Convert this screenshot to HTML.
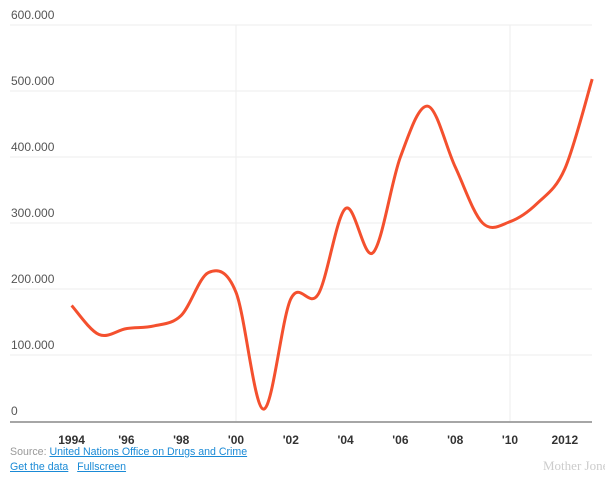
<!DOCTYPE html>
<html><head><meta charset="utf-8">
<style>
body{margin:0;background:#fff;width:605px;height:478px;overflow:hidden;font-family:"Liberation Sans",sans-serif;}
svg{position:absolute;left:0;top:0;}
.foot{position:absolute;left:10px;font-size:10.6px;color:#999;}
.foot a{color:#1a8ad6;text-decoration:underline;}
</style></head><body>
<svg id="chart" width="605" height="478"></svg>
<div class="foot" style="top:446px">Source: <a>United Nations Office on Drugs and Crime</a></div>
<div class="foot" style="top:461px"><a>Get the data</a>&nbsp;&nbsp; <a>Fullscreen</a></div>
<div style="position:absolute;left:543px;top:458px;font-family:'Liberation Serif',serif;font-size:13px;color:#ccc;white-space:nowrap">Mother Jones</div>
<script>
const years=[1994,1995,1996,1997,1998,1999,2000,2001,2002,2003,2004,2005,2006,2007,2008,2009,2010,2011,2012,2013];
const values=[175000,131000,140000,144000,160000,225000,195000,18000,185000,192000,322000,255000,400000,477000,385000,300000,302000,330000,382000,518000];
const yTicks=[0,100000,200000,300000,400000,500000,600000];
const yTickLabels=["0","100.000","200.000","300.000","400.000","500.000","600.000"];
const xTicks=[1994,1996,1998,2000,2002,2004,2006,2008,2010,2012];
const xTickLabels=["1994","'96","'98","'00","'02","'04","'06","'08","'10","2012"];
const vGrid=[2000,2010];

const NS="http://www.w3.org/2000/svg";
const svg=document.getElementById('chart');
const x=yr=>236+(yr-2000)*27.4;
const y=v=>421-v*0.66/1000;
function mk(t,a){const e=document.createElementNS(NS,t);for(const k in a)e.setAttribute(k,a[k]);svg.appendChild(e);return e;}

yTicks.forEach((t,i)=>{
  if(t>0){const g=mk('line',{x1:10,x2:592,y1:y(t),y2:y(t),stroke:'#eee','stroke-width':1});
  
  }
  const l=mk('text',{x:11,y:y(t)-6,'font-size':'12','fill':'#555','font-family':'Liberation Sans, sans-serif'});
  l.textContent=yTickLabels[i];
  
  
});
vGrid.forEach(v=>{
  const g=mk('line',{x1:x(v),x2:x(v),y1:y(600000),y2:y(0),stroke:'#eee','stroke-width':1});
  
  
});
const ax=mk('line',{x1:10,x2:592,y1:y(0)+1,y2:y(0)+1,stroke:'#888','stroke-width':1.5});


xTicks.forEach((t,i)=>{
  const l=mk('text',{x:x(t),y:444,'text-anchor':'middle','font-size':'12','font-weight':'bold','fill':'#333','font-family':'Liberation Sans, sans-serif'});
  l.textContent=xTickLabels[i];
  
  
});
const pts=years.map((yr,i)=>[x(yr),y(values[i])]);
let d='M'+pts[0][0]+','+pts[0][1];
for(let i=0;i<pts.length-1;i++){
  const p0=pts[i-1]||pts[i],p1=pts[i],p2=pts[i+1],p3=pts[i+2]||p2;
  const c1=[p1[0]+(p2[0]-p0[0])/6,p1[1]+(p2[1]-p0[1])/6];
  const c2=[p2[0]-(p3[0]-p1[0])/6,p2[1]-(p3[1]-p1[1])/6];
  d+=` C${c1[0]},${c1[1]} ${c2[0]},${c2[1]} ${p2[0]},${p2[1]}`;
}
const path=mk('path',{d:d,fill:'none',stroke:'#f4502e','stroke-width':3,'stroke-linejoin':'round'});


</script>
</body></html>
